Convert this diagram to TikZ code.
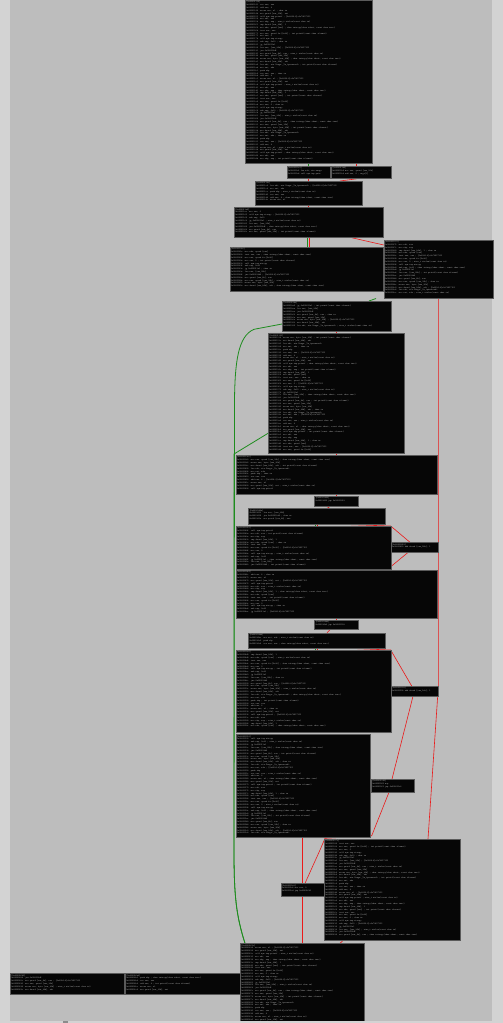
\documentclass[tikz,border=0pt]{standalone}
\usepackage{tikz}

\definecolor{graphbg}{RGB}{189,189,189}
\definecolor{panebg}{RGB}{211,211,211}
\definecolor{blockbg}{RGB}{6,6,6}
\definecolor{blockline}{RGB}{90,90,90}
\definecolor{asmtext}{RGB}{178,178,178}
\definecolor{jmptrue}{RGB}{30,140,30}
\definecolor{jmpfalse}{RGB}{235,25,25}

\pgfdeclarelayer{bgl}
\pgfdeclarelayer{edges}
\pgfsetlayers{bgl,edges,main}

% instruction and comment pools for the disassembly listings
\newcommand\insn[1]{\ifcase#1 push rbp\or mov rbp, rsp\or sub rsp, 0x30\or
 mov dword [var\_24h], edi\or mov qword [var\_30h], rsi\or mov rax, qword fs:[0x28]\or
 mov qword [var\_8h], rax\or xor eax, eax\or cmp dword [var\_24h], 1\or jg 0x000011a1\or
 lea rdi, str.Usage:\_\%s\_<password>\or call sym.imp.printf\or mov eax, 0\or
 mov rax, qword [var\_30h]\or add rax, 8\or mov rdx, qword [rax]\or lea rax, [var\_20h]\or
 mov rsi, rdx\or mov rdi, rax\or call sym.imp.strcpy\or movzx eax, byte [var\_20h]\or
 movsx eax, al\or test eax, eax\or jne 0x000012d6\fi}
\newcommand\cmt[1]{\ifcase#1 ; int printf(const char *format)\or
 ; char *strcpy(char *dest, const char *src)\or ; size\_t strlen(const char *s)\or
 ; [0x2004:8]=0x72657355\or ; char *s\fi}

\newcommand\asm[3]{%
  \pgfmathparse{hex(#1)}[0x0000\pgfmathresult]\par
  \foreach \k in {1,...,#3}{%
    \pgfmathtruncatemacro\asmj{mod(7*\k+#2,24)}%
    \pgfmathtruncatemacro\asmc{mod(5*\k+3*#2,11)}%
    \pgfmathtruncatemacro\asma{#1+5*\k+mod(3*\k,4)}%
    \pgfmathparse{hex(\asma)}%
    \mbox{0x0000\pgfmathresult\ \ \insn{\asmj}\ifnum\asmc<5 \ \cmt{\asmc}\fi}\par}}

% block: name, x0, y0, x1, y1, base address, seed
\newcommand\blk[7]{%
  \pgfmathtruncatemacro\asmn{(#5-#3-2.5)/2.85-1}%
  \node[bb] (#1) at (#2,#3)
    {\parbox[t][\dimexpr#5pt-#3pt-2pt\relax][t]{\dimexpr#4pt-#2pt-2pt\relax}{\asm{#6}{#7}{\asmn}}};}
% small block with its own lines
\newcommand\sblk[6]{%
  \node[bb] (#1) at (#2,#3)
    {\parbox[t][\dimexpr#5pt-#3pt-2pt\relax][t]{\dimexpr#4pt-#2pt-2pt\relax}{#6}};}

\begin{document}
\begin{tikzpicture}[x=1pt, y=-1pt,
  bb/.style={draw=blockline, fill=blockbg, line width=0.5pt, anchor=north west,
    inner sep=1pt, text=asmtext, font=\ttfamily\fontsize{2.2}{2.85}\selectfont},
  jt/.style={draw=jmptrue, line width=0.8pt},
  jf/.style={draw=jmpfalse, line width=0.6pt}]
\useasboundingbox (0,0) rectangle (503,1023);
\begin{pgfonlayer}{bgl}
\fill[graphbg] (0,0) rectangle (503,1023);
\fill[panebg] (0,0) rectangle (9.7,1023);
\fill[panebg] (491.5,0) rectangle (503,1023);
\end{pgfonlayer}

\blk{bb01}{245}{0}{372}{163.3}{4409}{0}
\sblk{bb02}{286.7}{165.7}{330}{178.3}{[0x000011a1]\\0x000011a1  lea rdi, str.usage\\0x000011a8  call sym.imp.puts}
\sblk{bb03}{331}{165.7}{391}{178.3}{[0x000011b4]\\0x000011b4  mov rax, qword [var\_30h]\\0x000011b8  add rax, 8 ; argv[1]}
\blk{bb04}{255}{181}{362}{205}{4540}{3}
\blk{bb05}{234}{207.3}{383}{237.3}{4580}{5}
\blk{bb06}{229.7}{247}{383}{291.3}{4630}{8}
\blk{bb07}{383.7}{239.7}{492.7}{298}{4720}{11}
\blk{bb08}{282}{301}{390.7}{331}{4830}{2}
\blk{bb09}{268}{333.3}{404}{453.3}{4880}{13}
\blk{bb10}{235.7}{455}{437}{494}{5100}{6}
\sblk{bb11}{314.3}{496}{358}{506}{[0x00001400]\\0x00001400  jmp 0x00001452}
\blk{bb12}{248.3}{508.3}{385}{524}{5130}{9}
\blk{bb13}{235.7}{526}{390.7}{569}{5150}{4}
\sblk{bb14}{390.7}{542.3}{437.7}{551.7}{[0x00001452]\\0x00001452  add dword [var\_18h], 1}
\blk{bb15}{235.7}{570}{437}{617.7}{5220}{7}
\sblk{bb16}{314.3}{620}{358}{629.3}{[0x000014b0]\\0x000014b0  jmp 0x00001502}
\blk{bb17}{248.3}{632.7}{385}{647.7}{5300}{10}
\blk{bb18}{235.7}{650}{390.7}{732.3}{5320}{1}
\sblk{bb19}{390.7}{686}{437.7}{695.7}{[0x00001502]\\0x00001502  add dword [var\_1ch], 1}
\blk{bb20}{235.7}{734.3}{370}{836.7}{5400}{12}
\sblk{bb21}{371}{779}{414}{791.7}{[0x00001560]\\0x00001560  nop\\0x00001561  jmp 0x000015c8}
\blk{bb22}{324}{839}{460}{940}{5500}{15}
\sblk{bb23}{280.7}{883.3}{324}{896}{[0x000015c8]\\0x000015c8  mov eax, 0\\0x000015cd  jmp 0x00001620}
\blk{bb24}{240}{943.3}{364.3}{1023}{5660}{14}
\blk{bb25}{10}{973.3}{124}{994}{5760}{16}
\blk{bb26}{125}{973.3}{240}{994}{5800}{17}

\begin{pgfonlayer}{edges}
\draw[jt] (308,0 |- bb01.south) -- (308,0 |- bb02.north);
\draw[jf] (356.7,0 |- bb01.south) -- (356.7,0 |- bb03.north);
\draw[jf] (308,0 |- bb02.south) -- (308,0 |- bb04.north);
\draw[jf] (356.7,0 |- bb03.south) -- (340,0 |- bb04.north);
\draw[jf] (308,0 |- bb04.south) -- (308,0 |- bb05.north);
\draw[jt] (307,0 |- bb05.south) -- (307,0 |- bb06.north);
\draw[jf] (309.5,0 |- bb05.south) -- (309.5,0 |- bb06.north);
\draw[jf] (352,0 |- bb05.south) -- (bb07.west |- 0,245);
\draw[jt] (376,0 |- bb07.south) -- (369,0 |- bb08.north);
\draw[jf] (438.3,0 |- bb07.south) -- (438.3,687) -- (428,0 |- bb22.north);
\draw[jf] (336,0 |- bb08.south) -- (336,0 |- bb09.north);
\draw[jt] (bb08.west |- 0,324) -- (254,329.3) .. controls (238,336) and (235,362) .. (234.5,400)
  -- (234,850) .. controls (234,895) and (236,915) .. (245,0 |- bb24.north);
\draw[jt] (bb09.west |- 0,433.3) -- (234,454) -- (234,850)
  .. controls (234,895) and (236,915) .. (245,0 |- bb24.north);
\draw[jf] (336,0 |- bb09.south) -- (336,0 |- bb10.north);
\draw[jf] (336,0 |- bb10.south) -- (336,0 |- bb11.north);
\draw[jf] (330,0 |- bb11.south) -- (327,0 |- bb12.north);
\draw[jt] (315,0 |- bb12.south) -- (315,0 |- bb13.north);
\draw[jf] (317,0 |- bb12.south) -- (317,0 |- bb13.north);
\draw[jf] (345,0 |- bb12.south) -- (390.7,526) -- (410,0 |- bb14.north);
\draw[jf] (408.3,0 |- bb14.south) -- (386.7,0 |- bb15.north);
\draw[jf] (336,0 |- bb15.south) -- (336,0 |- bb16.north);
\draw[jf] (330,0 |- bb16.south) -- (327,0 |- bb17.north);
\draw[jt] (315,0 |- bb17.south) -- (315,0 |- bb18.north);
\draw[jf] (317,0 |- bb17.south) -- (317,0 |- bb18.north);
\draw[jf] (345,0 |- bb17.south) -- (390.7,650) -- (411.7,0 |- bb19.north);
\draw[jf] (413,0 |- bb19.south) -- (392,0 |- bb21.north);
\draw[jf] (389,0 |- bb21.south) -- (371.7,835.7) -- (325,838.3) -- (320,850) -- (305,0 |- bb23.north);
\draw[jf] (302.3,0 |- bb20.south) -- (302.3,0 |- bb23.north);
\draw[jf] (302.3,0 |- bb23.south) -- (302.3,0 |- bb24.north);
\draw[jf] (343,0 |- bb22.south) -- (340,0 |- bb24.north);
\end{pgfonlayer}

\fill[panebg] (0,1020.5) rectangle (503,1023);
\fill[black!45] (63,1020.5) rectangle (68,1023);
\end{tikzpicture}
\end{document}
